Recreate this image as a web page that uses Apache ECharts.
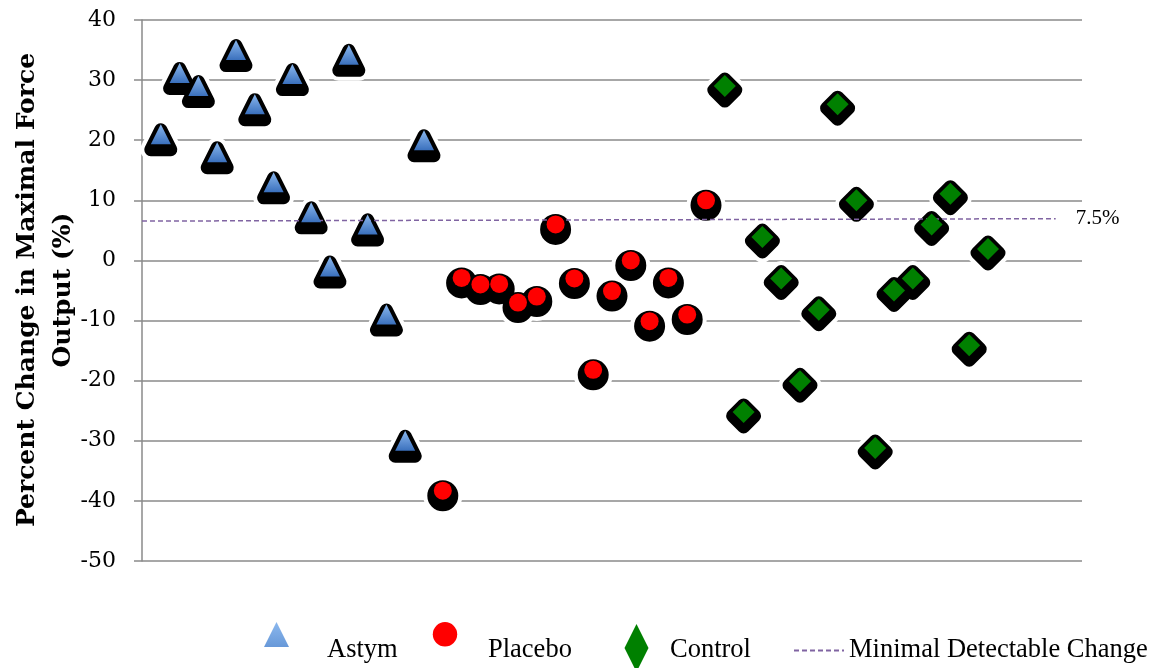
<!DOCTYPE html>
<html>
<head>
<meta charset="utf-8">
<script src="https://cdn.jsdelivr.net/npm/echarts@6/dist/echarts.min.js"></script>
<style>
html,body{margin:0;padding:0;background:#fff;}
#chart{width:1153px;height:668px;}
</style>
</head>
<body>
<div id="chart"></div>
<script>
// ---- data ----
const SERIES_NAMES = ['Astym', 'Placebo', 'Control', 'Minimal Detectable Change'];
const ASTYM_X = [1, 2, 3, 4, 5, 6, 7, 8, 9, 10, 11, 12, 13, 14, 15];
const ASTYM_Y = [21, 31.2, 29, 18, 35, 26, 13, 31, 8, -1, 34.2, 6, -9, -30, 20];
const PLACEBO_X = [16, 17, 18, 19, 20, 21, 22, 23, 24, 25, 26, 27, 28, 29, 30];
const PLACEBO_Y = [-38.3, -2.9, -4, -3.9, -7, -6, 6, -3, -18.2, -5.1, 0, -10.1, -2.9, -9, 10];
const CONTROL_X = [31, 32, 33, 34, 35, 36, 37, 38, 39, 40, 41, 42, 43, 44, 45];
const CONTROL_Y = [29, -25.2, 3.9, -3, -20.1, -8.2, 26, 10, -31.2, -5, -3, 6, 11.1, -14.1, 1.9];
const MDC_X = [0, 48.6];
const MDC_Y = [6.55, 6.95];
const MDC_LABEL = '7.5%';
const Y_MIN = -50, Y_MAX = 40, Y_STEP = 10;
const X_MIN = 0, X_MAX = 50;
const Y_TITLE = 'Percent Change in Maximal Force\nOutput (%)';

function pairs(xs, ys) { return xs.map((x, i) => [x, ys[i]]); }

const blueGrad = new echarts.graphic.LinearGradient(0, 0, 0, 1, [
  { offset: 0, color: '#8bb8ee' },
  { offset: 1, color: '#3a70bd' }
]);

const groups = [
  { name: SERIES_NAMES[0], data: pairs(ASTYM_X, ASTYM_Y), symbol: 'triangle', size: [20, 20], color: blueGrad, off: 5.5 },
  { name: SERIES_NAMES[1], data: pairs(PLACEBO_X, PLACEBO_Y), symbol: 'circle', size: 18, color: '#ff0000', off: 5 },
  { name: SERIES_NAMES[2], data: pairs(CONTROL_X, CONTROL_Y), symbol: 'diamond', size: [22, 22], color: '#008000', off: 4 }
];

const series = [];
groups.forEach(g => {
  series.push({
    type: 'scatter', name: g.name + '-halo', data: g.data, symbol: g.symbol, symbolSize: g.size,
    symbolOffset: [0, g.off], z: 1, silent: true,
    itemStyle: { color: '#fff', borderColor: '#fff', borderWidth: 21, borderJoin: 'round', opacity: 1 }
  });
  series.push({
    type: 'scatter', name: g.name + '-shadow', data: g.data, symbol: g.symbol, symbolSize: g.size,
    symbolOffset: [0, g.off], z: 2, silent: true,
    itemStyle: { color: '#000', borderColor: '#000', borderWidth: 13, borderJoin: 'round', opacity: 1 }
  });
});
series.push({
  type: 'line', name: SERIES_NAMES[3], data: pairs(MDC_X, MDC_Y), symbol: 'none', z: 3, silent: true,
  itemStyle: { color: 'rgba(0,0,0,0)' },
  lineStyle: { color: '#8064a2', width: 1.5, type: [5, 3] },
  endLabel: { show: true, formatter: MDC_LABEL, distance: 20, color: '#000',
    fontFamily: 'Liberation Serif', fontSize: 21 }
});
groups.forEach(g => {
  series.push({
    type: 'scatter', name: g.name, data: g.data, symbol: g.symbol, symbolSize: g.size, z: 4, silent: true,
    itemStyle: { color: g.color, opacity: 1 }
  });
});

// legend icons (bounding box padded with moveTo points to place the icon within the item cell)
const LEG_H = 57;
const triIcon = 'path://M0,0 M58,' + LEG_H + ' M12.5,0 L25,25 L0,25 Z';
const circIcon = 'path://M0,0 M50.3,' + LEG_H + ' M0.1,12.3 A12.2,12.2 0 1 1 24.5,12.3 A12.2,12.2 0 1 1 0.1,12.3 Z';
const diaIcon = 'path://M0,0 M40.5,' + LEG_H + ' M12,2 L24,26 L12,50 L0,26 Z';

const legendText = { fontFamily: 'Liberation Serif', fontSize: 26.5, color: '#000' };
function leg(name, left, top, w, h, icon) {
  const item = icon ? { name: name, icon: icon } : { name: name };
  return { data: [item], left: left, top: top, padding: 0, itemWidth: w, itemHeight: h,
    itemGap: 0, selectedMode: false, textStyle: legendText, itemStyle: { opacity: 1 } };
}

const option = {
  animation: false,
  backgroundColor: '#fff',
  grid: { left: 142, right: 71, top: 20, bottom: 107, containLabel: false },
  xAxis: { type: 'value', min: X_MIN, max: X_MAX, show: false },
  yAxis: {
    type: 'value', min: Y_MIN, max: Y_MAX, interval: Y_STEP,
    axisLine: { show: true, lineStyle: { color: '#8a8a8a', width: 1.5 } },
    axisTick: { show: true, length: 8, lineStyle: { color: '#8a8a8a', width: 1.5 } },
    axisLabel: { margin: 26, color: '#000', fontFamily: 'DejaVu Serif', fontSize: 22 },
    splitLine: { show: true, lineStyle: { color: '#8a8a8a', width: 1.5 } }
  },
  legend: [
    leg(SERIES_NAMES[0], 264, 622, 58, LEG_H, triIcon),
    leg(SERIES_NAMES[1], 432.7, 622, 50.3, LEG_H, circIcon),
    leg(SERIES_NAMES[2], 624.5, 622, 40.5, LEG_H, diaIcon),
    leg(SERIES_NAMES[3], 793, 630, 50, 51, null)
  ],
  graphic: [{
    type: 'text', x: 45, y: 290, rotation: Math.PI / 2, silent: true,
    style: { text: Y_TITLE, font: 'bold 25px "DejaVu Serif"', fill: '#000',
      align: 'center', verticalAlign: 'middle', textAlign: 'center', textVerticalAlign: 'middle', lineHeight: 36 }
  }],
  series: series
};

const chart = echarts.init(document.getElementById('chart'), null, { renderer: 'canvas' });
chart.setOption(option);
</script>
</body>
</html>
